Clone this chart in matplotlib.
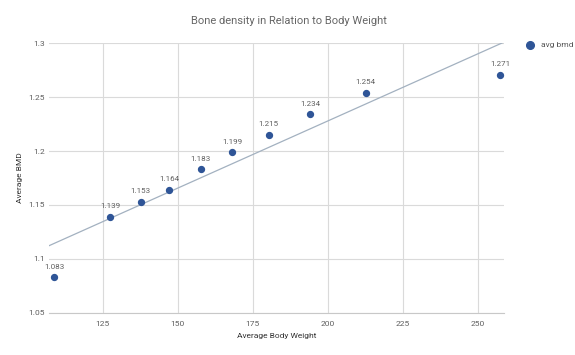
"""Bone density vs body weight scatter with linear trendline."""

import matplotlib
matplotlib.use("Agg")
import matplotlib.pyplot as plt
import numpy as np

plt.rcParams["font.family"] = ["Roboto", "DejaVu Sans"]

WEIGHT = [108.8, 127.4, 137.7, 147.2, 157.6, 168.2, 180.2, 194.0, 212.6, 257.3]
BMD = [1.083, 1.139, 1.153, 1.164, 1.183, 1.199, 1.215, 1.234, 1.254, 1.271]
X_TICKS = [125, 150, 175, 200, 225, 250]
Y_TICKS = [1.05, 1.1, 1.15, 1.2, 1.25, 1.3]
Y_TICK_LABELS = ["1.05", "1.1", "1.15", "1.2", "1.25", "1.3"]

POINT = "#2f5597"
GRID = "#dadada"
TEXT = "#5f5f5f"

fig = plt.figure(figsize=(5.75, 3.55), dpi=100)
ax = fig.add_axes([0.0857, 0.119, 0.7908, 0.759])
xlim = (107.2, 258.6)
ax.set_xlim(*xlim)
ax.set_ylim(1.05, 1.3)

slope, intercept = np.polyfit(WEIGHT, BMD, 1)
xs = np.array(xlim)
ax.plot(xs, slope * xs + intercept, color="#a3b1c0", linewidth=0.9, zorder=2)

ax.scatter(WEIGHT, BMD, s=18, color=POINT, zorder=3, label="avg bmd", clip_on=False)
for x, y in zip(WEIGHT, BMD):
    ax.annotate(f"{y:.3f}", (x, y), xytext=(0, 5.5), textcoords="offset points",
                ha="center", va="bottom", fontsize=5.8, color=TEXT)

ax.set_xticks(X_TICKS)
ax.set_yticks(Y_TICKS)
ax.set_yticklabels(Y_TICK_LABELS)
ax.grid(True, color=GRID, linewidth=0.8)
ax.set_axisbelow(True)
for side in ["top", "right", "left"]:
    ax.spines[side].set_visible(False)
ax.spines["bottom"].set_color("#c8c8c8")
ax.tick_params(axis="y", length=0, labelsize=6, colors=TEXT, pad=3)
ax.tick_params(axis="x", length=0, labelsize=6, colors=TEXT, pad=6)

ax.set_xlabel("Average Body Weight", fontsize=6, color="#333333", labelpad=4)
ax.set_ylabel("Average BMD", fontsize=6, color="#333333", labelpad=4)
fig.text(288.5 / 575, 1 - 21 / 355, "Bone density in Relation to Body Weight",
         ha="center", va="center", fontsize=8, color="#666666")

fig.legend(loc="upper left", bbox_to_anchor=(0.895, 0.905), frameon=False,
           fontsize=6, handletextpad=0.3, markerscale=1.3, labelcolor="#555555")

fig.savefig("out.png", dpi=100)
plt.close(fig)
